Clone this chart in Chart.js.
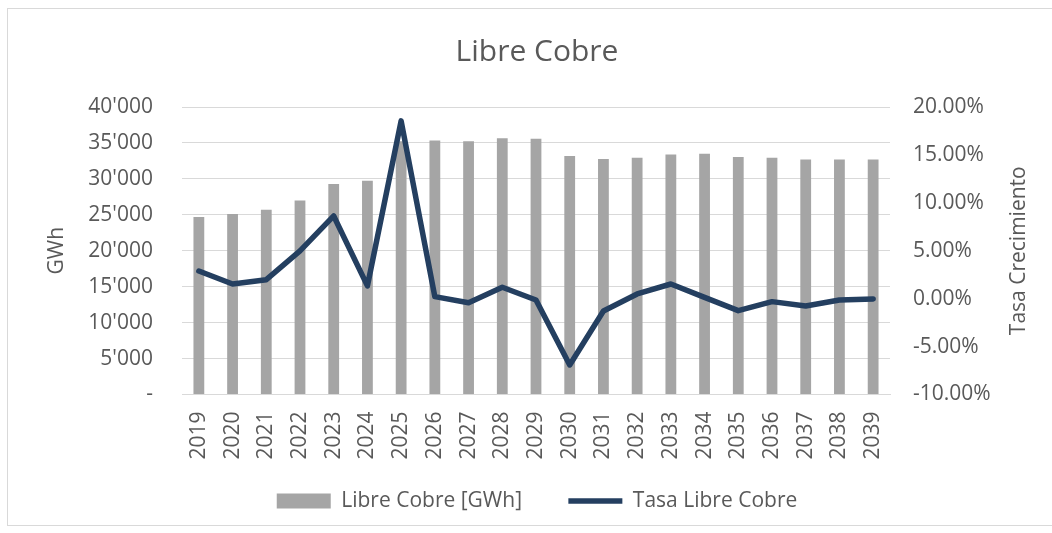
<!DOCTYPE html>
<html>
<head>
<meta charset="utf-8">
<title>Libre Cobre</title>
<script src="https://cdn.jsdelivr.net/npm/chart.js@4/dist/chart.umd.min.js"></script>
<style>
  html, body { margin: 0; padding: 0; background: #fff; overflow: hidden; }
  #frame {
    position: absolute; left: 7px; top: 8px; width: 1080px; height: 518px;
    border: 1px solid #d9d9d9; box-sizing: border-box;
  }
  #wrap { position: absolute; left: 0; top: 0; width: 1052px; height: 533px; }
</style>
</head>
<body>
<div id="frame"></div>
<div id="wrap"><canvas id="grafico"></canvas></div>
<script>
const years = ["2019", "2020", "2021", "2022", "2023", "2024", "2025", "2026", "2027", "2028",
  "2029", "2030", "2031", "2032", "2033", "2034", "2035", "2036", "2037", "2038", "2039"];

// demanda anual en GWh
const libreCobre = [24700, 25100, 25700, 27000, 29300, 29750, 35250, 35350, 35250, 35650,
  35600, 33200, 32750, 32950, 33400, 33500, 33050, 32950, 32700, 32700, 32700];

// tasa de crecimiento anual en %
const tasaLibreCobre = [2.89, 1.53, 1.98, 4.98, 8.63, 1.33, 18.55, 0.21, -0.42, 1.19,
  -0.14, -6.92, -1.28, 0.49, 1.53, 0.14, -1.25, -0.31, -0.76, -0.14, -0.03];

const gwhTicks = { min: 0, max: 40000, step: 5000 };
const tasaTicks = { min: -10, max: 20, step: 5 };

const titulo = "Libre Cobre";
const tituloEjeIzq = "GWh";
const tituloEjeDer = "Tasa Crecimiento";

const gris = "#595959";
const fuente = "'Open Sans', sans-serif";

function miles(v) {
  if (v === 0) return "-";
  return String(v).replace(/\B(?=(\d{3})+(?!\d))/g, "'");
}

// el título del eje derecho se lee de abajo hacia arriba
const tituloDerecho = {
  id: "tituloDerecho",
  afterDraw(chart) {
    const ctx = chart.ctx;
    const area = chart.chartArea;
    ctx.save();
    ctx.translate(1019, (area.top + area.bottom) / 2);
    ctx.rotate(-Math.PI / 2);
    ctx.fillStyle = gris;
    ctx.font = "21px " + fuente;
    ctx.textAlign = "center";
    ctx.textBaseline = "middle";
    ctx.fillText(tituloEjeDer, 0, 0);
    ctx.restore();
  },
};

new Chart("grafico", {
  data: {
    labels: years,
    datasets: [
      {
        type: "bar",
        label: "Libre Cobre [GWh]",
        data: libreCobre,
        backgroundColor: "#a5a5a5",
        barPercentage: 0.32,
        categoryPercentage: 1,
        yAxisID: "y",
        order: 1,
        pointStyle: "rect",
      },
      {
        type: "line",
        label: "Tasa Libre Cobre",
        data: tasaLibreCobre,
        borderColor: "#243f60",
        backgroundColor: "#243f60",
        borderWidth: 5.5,
        borderCapStyle: "round",
        borderJoinStyle: "round",
        pointRadius: 0,
        tension: 0,
        yAxisID: "y2",
        order: 0,
        pointStyle: "line",
      },
    ],
  },
  plugins: [tituloDerecho],
  options: {
    responsive: true,
    maintainAspectRatio: false,
    animation: false,
    layout: { padding: { left: 22, right: 0, top: 0, bottom: 12.5 } },
    plugins: {
      title: {
        display: true,
        text: titulo,
        color: gris,
        font: { family: fuente, size: 30, weight: "normal" },
        padding: { top: 34, bottom: 37 },
      },
      legend: {
        position: "bottom",
        maxHeight: 60,
        labels: {
          usePointStyle: true,
          pointStyleWidth: 54,
          boxHeight: 15,
          padding: 30,
          color: gris,
          font: { family: fuente, size: 21 },
          sort: (a, b) => a.datasetIndex - b.datasetIndex,
          generateLabels(chart) {
            const items = Chart.defaults.plugins.legend.labels.generateLabels(chart);
            // un poco más de aire entre las dos entradas
            items.forEach((it) => {
              if (it.datasetIndex === 0) it.text += "   ";
            });
            return items;
          },
        },
      },
      tooltip: { enabled: false },
    },
    scales: {
      x: {
        offset: true,
        grid: { display: false, drawTicks: false },
        border: { display: true, color: "#d9d9d9", width: 1 },
        ticks: {
          color: gris,
          font: { family: fuente, size: 21 },
          minRotation: 90,
          maxRotation: 90,
          padding: 17,
          autoSkip: false,
        },
        afterFit(scale) {
          scale.height = 66;
        },
      },
      y: {
        position: "left",
        min: gwhTicks.min,
        max: gwhTicks.max,
        grid: { color: "#d9d9d9", lineWidth: 1, drawTicks: false },
        border: { display: false },
        ticks: {
          stepSize: gwhTicks.step,
          color: gris,
          font: { family: fuente, size: 21 },
          padding: 29,
          callback: (v) => miles(v),
        },
        title: {
          display: true,
          text: tituloEjeIzq,
          color: gris,
          font: { family: fuente, size: 21 },
          padding: { top: 22 },
        },
        afterFit(scale) {
          scale.width = 160;
        },
      },
      y2: {
        position: "right",
        min: tasaTicks.min,
        max: tasaTicks.max,
        grid: { display: false, drawTicks: false },
        border: { display: false },
        ticks: {
          stepSize: tasaTicks.step,
          color: gris,
          font: { family: fuente, size: 21 },
          padding: 23,
          callback: (v) => v.toFixed(2) + "%",
        },
        afterFit(scale) {
          scale.width = 162;
        },
      },
    },
  },
});
</script>
</body>
</html>
